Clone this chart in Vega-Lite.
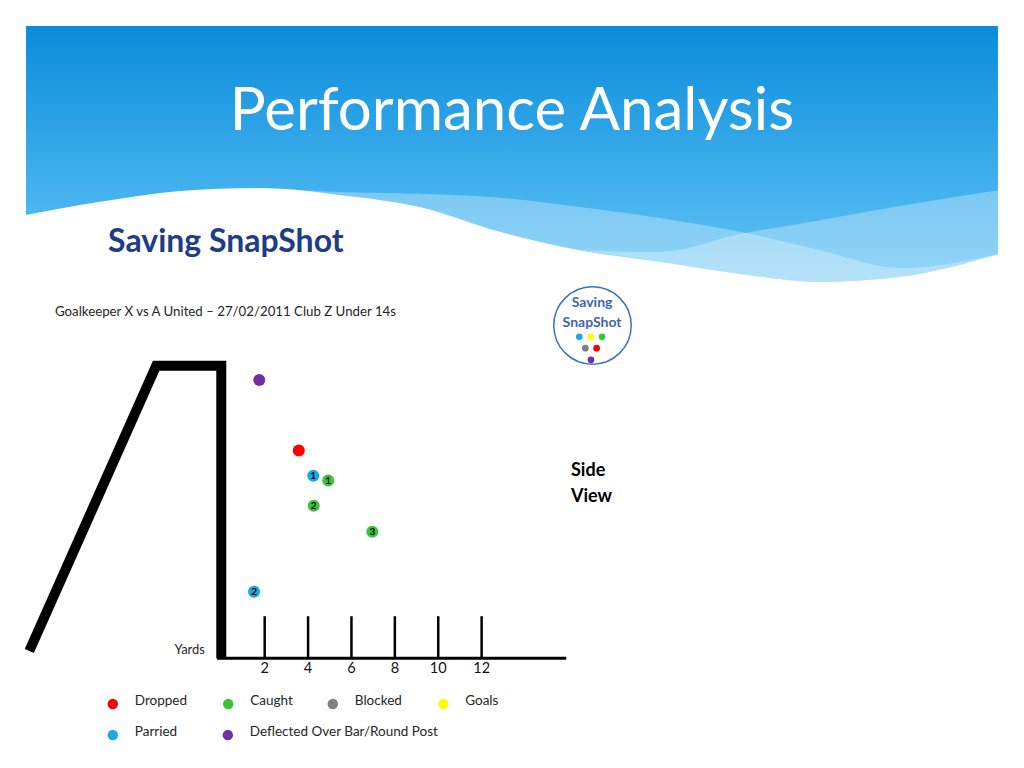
{
  "$schema": "https://vega.github.io/schema/vega-lite/v6.json",
  "width": 1024,
  "height": 768,
  "autosize": {"type": "fit", "contains": "padding"},
  "padding": 0,
  "background": "white",
  "config": {"view": {"stroke": null}},
  "data": {"values": [{}]},
  "datasets": {
    "banner": [
      {"bx": -9.00, "top": 17.29, "edge": 12.12},
      {"bx": -5.59, "top": 17.29, "edge": 12.48},
      {"bx": -1.90, "top": 17.29, "edge": 12.78},
      {"bx": 1.78, "top": 17.29, "edge": 12.86},
      {"bx": 5.47, "top": 17.29, "edge": 12.67},
      {"bx": 9.16, "top": 17.29, "edge": 12.34},
      {"bx": 12.85, "top": 17.29, "edge": 11.66},
      {"bx": 16.53, "top": 17.29, "edge": 11.16},
      {"bx": 20.22, "top": 17.29, "edge": 10.84},
      {"bx": 23.91, "top": 17.29, "edge": 10.51},
      {"bx": 27.60, "top": 17.29, "edge": 10.29},
      {"bx": 31.28, "top": 17.29, "edge": 10.43},
      {"bx": 35.80, "top": 17.29, "edge": 11.05}
    ],
    "wave1": [
      {"wx": 1.78, "wtop": 12.86, "edge": 12.86},
      {"wx": 5.47, "wtop": 12.75, "edge": 12.67},
      {"wx": 9.16, "wtop": 12.70, "edge": 12.34},
      {"wx": 12.85, "wtop": 12.59, "edge": 11.66},
      {"wx": 16.53, "wtop": 12.34, "edge": 11.16},
      {"wx": 20.22, "wtop": 12.04, "edge": 10.84},
      {"wx": 23.91, "wtop": 11.66, "edge": 10.51},
      {"wx": 27.60, "wtop": 11.16, "edge": 10.29},
      {"wx": 31.28, "wtop": 10.67, "edge": 10.43},
      {"wx": 35.80, "wtop": 11.05, "edge": 11.05}
    ],
    "wave2": [
      {"wx": 16.53, "wtop": 11.16, "edge": 11.16},
      {"wx": 20.22, "wtop": 11.11, "edge": 10.84},
      {"wx": 23.91, "wtop": 11.60, "edge": 10.51},
      {"wx": 27.60, "wtop": 11.98, "edge": 10.29},
      {"wx": 31.28, "wtop": 12.37, "edge": 10.43},
      {"wx": 35.80, "wtop": 12.80, "edge": 11.05}
    ],
    "goal": [
      {"gx": -8.85, "gy": 0.2, "o": 1},
      {"gx": -3.0, "gy": 8, "o": 2},
      {"gx": 0, "gy": 8, "o": 3},
      {"gx": 0, "gy": 0, "o": 4}
    ],
    "yardTicks": [
      {"yd": 2}, {"yd": 4}, {"yd": 6}, {"yd": 8}, {"yd": 10}, {"yd": 12}
    ],
    "shots": [
      {"outcome": "Deflected Over Bar/Round Post", "yards": 1.75, "height": 7.61, "num": ""},
      {"outcome": "Dropped", "yards": 3.57, "height": 5.68, "num": ""},
      {"outcome": "Parried", "yards": 4.24, "height": 4.99, "num": "1"},
      {"outcome": "Caught", "yards": 4.93, "height": 4.86, "num": "1"},
      {"outcome": "Caught", "yards": 4.26, "height": 4.17, "num": "2"},
      {"outcome": "Caught", "yards": 6.96, "height": 3.46, "num": "3"},
      {"outcome": "Parried", "yards": 1.51, "height": 1.82, "num": "2"}
    ],
    "legendItems": [
      {"outcome": "Dropped", "lx": -5.00, "ly": -1.25},
      {"outcome": "Caught", "lx": 0.32, "ly": -1.25},
      {"outcome": "Blocked", "lx": 5.14, "ly": -1.25},
      {"outcome": "Goals", "lx": 10.23, "ly": -1.25},
      {"outcome": "Parried", "lx": -5.00, "ly": -2.10},
      {"outcome": "Deflected Over Bar/Round Post", "lx": 0.30, "ly": -2.10}
    ],
    "logoDots": [
      {"outcome": "Parried", "px": 16.50, "py": 8.79},
      {"outcome": "Goals", "px": 17.04, "py": 8.79},
      {"outcome": "Caught", "px": 17.55, "py": 8.79},
      {"outcome": "Blocked", "px": 16.78, "py": 8.48},
      {"outcome": "Dropped", "px": 17.30, "py": 8.48},
      {"outcome": "Deflected Over Bar/Round Post", "px": 17.04, "py": 8.16}
    ]
  },
  "layer": [
    {
      "data": {"name": "banner"},
      "mark": {
        "type": "area",
        "interpolate": "monotone",
        "fill": {
          "gradient": "linear", "x1": 0, "y1": 0, "x2": 0, "y2": 1,
          "stops": [
            {"offset": 0, "color": "#0A8CDB"},
            {"offset": 0.6, "color": "#3FAFEC"},
            {"offset": 1, "color": "#66C3F4"}
          ]
        }
      },
      "encoding": {
        "x": {"field": "bx", "type": "quantitative", "scale": {"domain": [-10.2, 37], "nice": false, "zero": false}, "axis": null, "title": null},
        "y": {"field": "top", "type": "quantitative", "scale": {"domain": [-3, 18], "nice": false, "zero": false}, "axis": null, "title": null},
        "y2": {"field": "edge"}
      }
    },
    {
      "data": {"name": "wave1"},
      "mark": {"type": "area", "interpolate": "monotone", "fill": "white", "opacity": 0.3},
      "encoding": {
        "x": {"field": "wx", "type": "quantitative", "axis": null, "title": null},
        "y": {"field": "wtop", "type": "quantitative", "axis": null, "title": null},
        "y2": {"field": "edge"}
      }
    },
    {
      "data": {"name": "wave2"},
      "mark": {"type": "area", "interpolate": "monotone", "fill": "white", "opacity": 0.3},
      "encoding": {
        "x": {"field": "wx", "type": "quantitative", "axis": null, "title": null},
        "y": {"field": "wtop", "type": "quantitative", "axis": null, "title": null},
        "y2": {"field": "edge"}
      }
    },
    {
      "mark": {"type": "text", "text": "Performance Analysis", "font": "Lato", "fontSize": 60, "fill": "white", "align": "center", "baseline": "alphabetic"},
      "encoding": {
        "x": {"datum": 13.40, "type": "quantitative", "axis": null, "title": null},
        "y": {"datum": 14.445, "type": "quantitative", "axis": null, "title": null}
      }
    },
    {
      "mark": {"type": "text", "text": "Saving SnapShot", "font": "Lato", "fontSize": 32, "fontWeight": "bold", "fill": "#1F3C88", "align": "left", "baseline": "alphabetic"},
      "encoding": {
        "x": {"datum": -5.22, "type": "quantitative", "axis": null, "title": null},
        "y": {"datum": 11.11, "type": "quantitative", "axis": null, "title": null}
      }
    },
    {
      "mark": {"type": "text", "text": "Goalkeeper X vs A United – 27/02/2011 Club Z Under 14s", "font": "Lato", "fontSize": 13.25, "fill": "#262626", "align": "left", "baseline": "middle"},
      "encoding": {
        "x": {"datum": -7.665, "type": "quantitative", "axis": null, "title": null},
        "y": {"datum": 9.47, "type": "quantitative", "axis": null, "title": null}
      }
    },
    {
      "mark": {"type": "point", "shape": "circle", "size": 6000, "filled": false, "fill": "white", "fillOpacity": 1, "stroke": "#3B74B8", "strokeWidth": 1.5, "opacity": 1},
      "encoding": {
        "x": {"datum": 17.11, "type": "quantitative", "axis": null, "title": null},
        "y": {"datum": 9.10, "type": "quantitative", "axis": null, "title": null}
      }
    },
    {
      "mark": {"type": "text", "text": "Saving", "font": "Lato", "fontSize": 14, "fontWeight": "bold", "fill": "#3C64B4", "align": "center", "baseline": "middle"},
      "encoding": {
        "x": {"datum": 17.09, "type": "quantitative", "axis": null, "title": null},
        "y": {"datum": 9.71, "type": "quantitative", "axis": null, "title": null}
      }
    },
    {
      "mark": {"type": "text", "text": "SnapShot", "font": "Lato", "fontSize": 14, "fontWeight": "bold", "fill": "#3C64B4", "align": "center", "baseline": "middle"},
      "encoding": {
        "x": {"datum": 17.09, "type": "quantitative", "axis": null, "title": null},
        "y": {"datum": 9.17, "type": "quantitative", "axis": null, "title": null}
      }
    },
    {
      "data": {"name": "logoDots"},
      "mark": {"type": "point", "shape": "circle", "filled": true, "size": 45, "opacity": 1},
      "encoding": {
        "x": {"field": "px", "type": "quantitative", "axis": null, "title": null},
        "y": {"field": "py", "type": "quantitative", "axis": null, "title": null},
        "color": {
          "field": "outcome", "type": "nominal", "legend": null,
          "scale": {
            "domain": ["Dropped", "Caught", "Blocked", "Goals", "Parried", "Deflected Over Bar/Round Post"],
            "range": ["#FF0000", "#39C539", "#808080", "#FFFF00", "#1AA8E6", "#7030A0"]
          }
        }
      }
    },
    {
      "data": {"name": "goal"},
      "mark": {"type": "line", "color": "black", "strokeWidth": 10, "strokeJoin": "miter", "strokeCap": "butt"},
      "encoding": {
        "x": {"field": "gx", "type": "quantitative", "axis": null, "title": null},
        "y": {"field": "gy", "type": "quantitative", "axis": null, "title": null},
        "order": {"field": "o", "type": "quantitative"}
      }
    },
    {
      "mark": {"type": "rule", "color": "black", "strokeWidth": 3},
      "encoding": {
        "x": {"datum": -0.2, "type": "quantitative", "axis": null, "title": null},
        "x2": {"datum": 15.9},
        "y": {"datum": 0, "type": "quantitative", "axis": null, "title": null}
      }
    },
    {
      "data": {"name": "yardTicks"},
      "mark": {"type": "rule", "color": "black", "strokeWidth": 2.5},
      "encoding": {
        "x": {"field": "yd", "type": "quantitative", "axis": null, "title": null},
        "y": {"datum": 0, "type": "quantitative", "axis": null, "title": null},
        "y2": {"datum": 1.15}
      }
    },
    {
      "data": {"name": "yardTicks"},
      "mark": {"type": "text", "font": "Lato", "fontSize": 14.5, "fill": "#111111", "align": "center", "baseline": "top"},
      "encoding": {
        "x": {"field": "yd", "type": "quantitative", "axis": null, "title": null},
        "y": {"datum": -0.1, "type": "quantitative", "axis": null, "title": null},
        "text": {"field": "yd", "type": "quantitative"}
      }
    },
    {
      "data": {"name": "shots"},
      "mark": {"type": "point", "shape": "circle", "filled": true, "size": 145, "opacity": 1},
      "encoding": {
        "x": {"field": "yards", "type": "quantitative", "axis": null, "title": null},
        "y": {"field": "height", "type": "quantitative", "axis": null, "title": null},
        "color": {"field": "outcome", "type": "nominal", "legend": null}
      }
    },
    {
      "data": {"name": "shots"},
      "mark": {"type": "text", "font": "Lato", "fontSize": 10, "fontWeight": "bold", "fill": "black", "align": "center", "baseline": "middle", "dy": 0.5},
      "encoding": {
        "x": {"field": "yards", "type": "quantitative", "axis": null, "title": null},
        "y": {"field": "height", "type": "quantitative", "axis": null, "title": null},
        "text": {"field": "num"}
      }
    },
    {
      "mark": {"type": "text", "text": ["Side", "View"], "font": "Lato", "fontSize": 18, "fontWeight": "bold", "fill": "black", "align": "left", "baseline": "middle", "lineHeight": 26},
      "encoding": {
        "x": {"datum": 16.12, "type": "quantitative", "axis": null, "title": null},
        "y": {"datum": 5.12, "type": "quantitative", "axis": null, "title": null}
      }
    },
    {
      "mark": {"type": "text", "text": "Yards", "font": "Lato", "fontSize": 13, "fill": "#262626", "align": "right", "baseline": "middle"},
      "encoding": {
        "x": {"datum": -0.75, "type": "quantitative", "axis": null, "title": null},
        "y": {"datum": 0.23, "type": "quantitative", "axis": null, "title": null}
      }
    },
    {
      "data": {"name": "legendItems"},
      "mark": {"type": "point", "shape": "circle", "filled": true, "size": 110, "opacity": 1},
      "encoding": {
        "x": {"field": "lx", "type": "quantitative", "axis": null, "title": null},
        "y": {"field": "ly", "type": "quantitative", "axis": null, "title": null},
        "color": {"field": "outcome", "type": "nominal", "legend": null}
      }
    },
    {
      "data": {"name": "legendItems"},
      "mark": {"type": "text", "font": "Lato", "fontSize": 13.5, "fill": "#262626", "align": "left", "baseline": "middle", "dx": 22, "dy": -3},
      "encoding": {
        "x": {"field": "lx", "type": "quantitative", "axis": null, "title": null},
        "y": {"field": "ly", "type": "quantitative", "axis": null, "title": null},
        "text": {"field": "outcome"}
      }
    }
  ]
}
